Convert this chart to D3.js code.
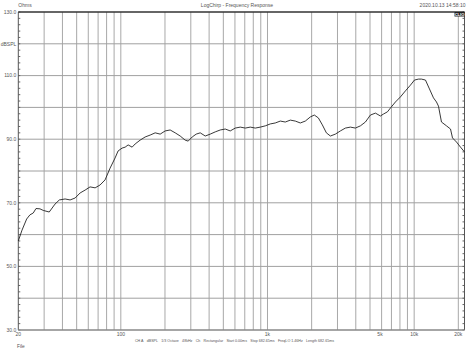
<!DOCTYPE html>
<html><head><meta charset="utf-8">
<script src="https://cdn.jsdelivr.net/npm/d3@7"></script>
<style>body{margin:0;background:#fff}svg{display:block}text{font-family:"Liberation Sans",Arial,sans-serif}</style>
</head><body>
<script>
const freqs = [20,21.2,22.8,24.0,25.3,26.4,28.1,29.6,32.5,35.6,38.1,41.7,45.1,48.8,52.8,57.1,61.7,66.8,72.2,78.1,84.5,91.4,95.8,102,107,112.2,119.4,125.2,135.4,146.5,158.5,171.5,185.5,200.6,217,234.8,254,274.7,287.9,306.7,326.6,347.9,376.3,407,440.3,476.3,515.1,557.3,602.8,652.1,705.3,763,825.4,892.8,966,1045,1130,1223,1322,1431,1548,1674,1811,1959,2086,2222,2366,2520,2684,2903,3140,3397,3675,3975,4300,4652,5032,5444,5888,6172,6572,6889,7452,8063,8721,9434,10047,10700,11215,11942,12718,13541,14195,14647,15355,16614,17694,18258,19440,20700,22040];
const spl = [58.0,61.4,64.9,66.2,66.8,68.2,68.1,67.6,67.1,69.6,70.9,71.2,70.9,71.5,73.1,74.0,75.0,74.7,75.6,77.2,80.9,84.1,86.3,87.2,87.5,88.2,87.5,88.5,89.7,90.7,91.3,92.0,91.6,92.6,92.9,92.0,91.0,89.7,89.4,90.7,91.6,92.0,91.0,91.6,92.3,92.9,93.2,92.6,93.5,93.8,93.5,93.8,93.5,93.8,94.2,94.8,95.1,95.7,95.4,96.0,95.7,95.1,95.7,97.0,97.6,96.7,94.5,92.0,91.0,91.6,92.6,93.5,93.8,93.5,94.2,95.4,97.6,98.2,97.3,97.9,98.6,99.8,101.7,103.3,105.2,107.0,108.6,108.9,108.9,108.6,105.8,103.0,101.7,100.4,95.4,94.2,93.2,90.4,89.1,87.5,86.0];
const xDomain = [20, 22040];
const yDomain = [30, 130];
const xTickVals = [20,100,1000,5000,10000,20000];
const xTickLabels = ["20","100","1k","5k","10k","20k"];
const yTickVals = [130,120,110,90,70,50,30];
const yTickLabels = ["130.0","dBSPL","110.0","90.0","70.0","50.0","30.0"];
const headerLeft = "Ohms", headerMid = "LogChirp - Frequency Response", headerRight = "2020.10.13 14:58:10";
const footerParts = ["CH A","dBSPL","1/3 Octave","48kHz","Ch","Rectangular","Start 0.00ms","Stop 682.65ms","FreqLO 1.46Hz","Length 682.65ms"];
const fileLabel = "File";

const W=474,H=355, L=18.3, R=464.5, T=12, B=330;
const svg = d3.select("body").append("svg").attr("width",W).attr("height",H);
const x = d3.scaleLog().domain(xDomain).range([L,R]);
const y = d3.scaleLinear().domain(yDomain).range([B,T]);
const grid = svg.append("g");
const vg = [];
[10,100,1000,10000].forEach(d=>{for(let k=1;k<10;k++){const v=d*k; if(v>xDomain[0]&&v<=20000) vg.push(v);}});
grid.selectAll("line.v").data(vg).join("line")
  .attr("x1",d=>x(d)).attr("x2",d=>x(d)).attr("y1",T).attr("y2",B)
  .attr("stroke","#a8a8a8").attr("stroke-width",1);
grid.selectAll("line.h").data(d3.range(40,130,10)).join("line")
  .attr("x1",L).attr("x2",R).attr("y1",d=>y(d)).attr("y2",d=>y(d))
  .attr("stroke","#a0a0a0").attr("stroke-width",1);
const minor = d3.range(30,130.1,2);
svg.append("g").selectAll("line").data(minor).join("line")
  .attr("x1",L).attr("x2",L+2).attr("y1",d=>y(d)).attr("y2",d=>y(d)).attr("stroke","#666");
svg.append("g").selectAll("line").data(minor).join("line")
  .attr("x1",R).attr("x2",R-2).attr("y1",d=>y(d)).attr("y2",d=>y(d)).attr("stroke","#666");
svg.append("line").attr("x1",L).attr("x2",L).attr("y1",T).attr("y2",B).attr("stroke","#555");
svg.append("line").attr("x1",R).attr("x2",R).attr("y1",T).attr("y2",B).attr("stroke","#555");
svg.append("line").attr("x1",L).attr("x2",R).attr("y1",T).attr("y2",T).attr("stroke","#333").attr("stroke-width",1.5);
svg.append("line").attr("x1",L).attr("x2",R).attr("y1",B).attr("y2",B).attr("stroke","#888").attr("stroke-width",1.5);
const line = d3.line().x((d,i)=>x(freqs[i])).y(d=>y(d)).curve(d3.curveLinear);
svg.append("path").datum(spl).attr("d",line).attr("fill","none").attr("stroke","#222").attr("stroke-width",0.9);
svg.append("g").selectAll("text").data(yTickVals).join("text")
  .attr("x",L-2).attr("y",d=>y(d)+1.8).attr("text-anchor","end")
  .attr("font-size",5).attr("fill","#555").text((d,i)=>yTickLabels[i]);
svg.append("g").selectAll("text").data(xTickVals).join("text")
  .attr("x",(d,i)=>x(d)+(d===5000?10:0)).attr("y",B+5.5).attr("text-anchor","middle")
  .attr("font-size",5).attr("fill","#555").text((d,i)=>xTickLabels[i]);
svg.append("text").attr("x",L).attr("y",7).attr("font-size",5).attr("fill","#555").text(headerLeft);
svg.append("text").attr("x",237).attr("y",7).attr("text-anchor","middle").attr("font-size",5).attr("fill","#555").text(headerMid);
svg.append("text").attr("x",R+1).attr("y",7).attr("text-anchor","end").attr("font-size",5).attr("fill","#555").text(headerRight);
svg.append("rect").attr("x",R-10).attr("y",T).attr("width",10).attr("height",4.5).attr("fill","#222");
svg.append("text").attr("x",R-5).attr("y",T+3.8).attr("text-anchor","middle").attr("font-size",4).attr("font-weight","bold").attr("fill","#fff").text("CLIO");
// footer laid out in groups, sized to fit the reference span
const fg = svg.append("g");
const ft = fg.selectAll("text").data(footerParts).join("text")
  .attr("y",342).attr("font-size",10).attr("fill","#555").text(d=>d);
const span = 199, gap0 = 3.2;
const sum10 = d3.sum(ft.nodes(), n=>n.getComputedTextLength());
const fs = Math.min(5, 10*(span - gap0*(footerParts.length-1))/sum10);
ft.attr("font-size",fs);
const lens = ft.nodes().map(n=>n.getComputedTextLength());
const gap = (span - d3.sum(lens))/(footerParts.length-1);
let cx = 135;
ft.each(function(d,i){ d3.select(this).attr("x",cx); cx += lens[i]+gap; });
svg.append("text").attr("x",17).attr("y",348).attr("font-size",4.8).attr("fill","#555").text(fileLabel);
</script>
</body></html>
